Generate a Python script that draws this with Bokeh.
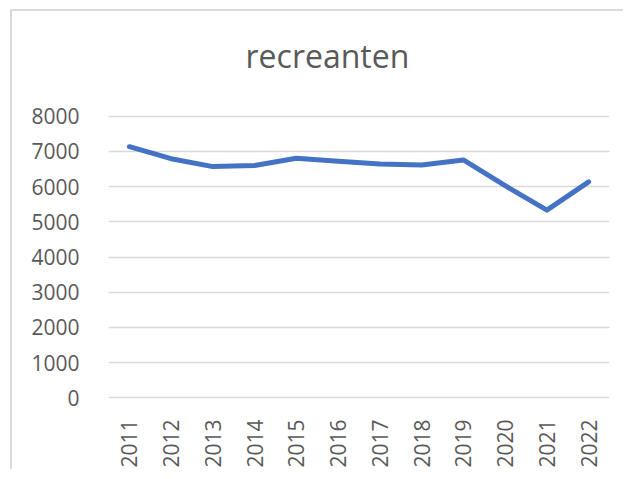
from bokeh.plotting import figure
from bokeh.models import FixedTicker, Title, Range1d, FactorRange
from bokeh.embed import file_html
from bokeh.resources import INLINE
import math

years = ["2011", "2012", "2013", "2014", "2015", "2016", "2017", "2018", "2019", "2020", "2021", "2022"]
recreanten = [7130, 6790, 6565, 6595, 6800, 6715, 6640, 6610, 6755, 6025, 5330, 6130]
y_ticks = [0, 1000, 2000, 3000, 4000, 5000, 6000, 7000, 8000]

FONT = "Open Sans"
TXT = "#595959"

p = figure(width=613, height=460, output_backend="svg", toolbar_location=None,
           x_range=FactorRange(*years, range_padding=0), y_range=Range1d(-100, 8100),
           min_border_left=96, min_border_right=16, min_border_top=101, min_border_bottom=70)
p.title = None
spacer = Title(text=" ", text_font_size="1px", standoff=28)
p.add_layout(spacer, "above")
t = Title(text="recreanten", align="left", text_font=FONT, text_font_size="32px",
          text_color=TXT, text_font_style="normal", standoff=10, offset=137)
p.add_layout(t, "above")

p.line(years, recreanten, line_color="#4472C4", line_width=5, line_cap="round", line_join="round")

p.outline_line_color = None
p.xgrid.grid_line_color = None
p.ygrid.grid_line_color = "#d9d9d9"
p.ygrid.grid_line_width = 1.5
p.yaxis.ticker = FixedTicker(ticks=y_ticks)
for ax in (p.xaxis, p.yaxis):
    ax.axis_line_color = None
    ax.major_tick_line_color = None
    ax.minor_tick_line_color = None
    ax.major_label_text_font = FONT
    ax.major_label_text_font_size = "21px"
    ax.major_label_text_color = TXT
p.yaxis.major_label_standoff = 23
p.xaxis.major_label_standoff = 12
p.xaxis.major_label_orientation = math.pi / 2
p.margin = (9, 0, 0, 10)
p.styles = {"border-top": "2px solid #d9d9d9", "border-left": "2px solid #d9d9d9"}

open("out.html", "w").write(file_html(p, INLINE))
